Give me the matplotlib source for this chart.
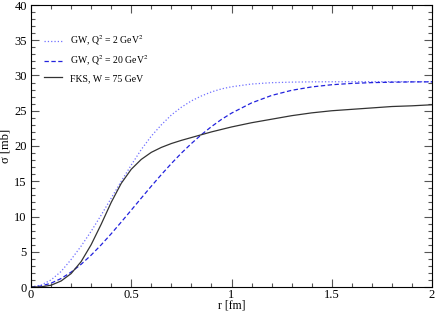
import numpy as np
import matplotlib
matplotlib.use("Agg")
import matplotlib.pyplot as plt
from matplotlib.ticker import MultipleLocator, FixedFormatter, FixedLocator

plt.rcParams['font.family'] = ['Liberation Serif', 'DejaVu Serif']
plt.rcParams['mathtext.fontset'] = 'stix'

# values
r_gw = [0, 0.05, 0.1, 0.15, 0.2, 0.25, 0.3, 0.35, 0.4, 0.45, 0.5, 0.55, 0.6, 0.65,
        0.7, 0.75, 0.8, 0.85, 0.9, 0.95, 1.0, 1.1, 1.2, 1.3, 1.4, 1.5, 1.6, 1.7,
        1.8, 1.9, 2.0]
gw_q2_2 = [0, 0.27, 1.0, 2.2, 3.9, 5.8, 7.9, 10.2, 12.6, 15.0, 17.3, 19.5,
           21.4, 23.0, 24.4, 25.5, 26.4, 27.1, 27.67, 28.10, 28.40, 28.79,
           28.98, 29.06, 29.10, 29.11, 29.12, 29.12, 29.12, 29.12, 29.12]
gw_q2_20 = [0, 0.14, 0.54, 1.20, 2.11, 3.22, 4.52, 5.98, 7.55, 9.21, 10.90, 12.61,
            14.30, 15.94, 17.51, 18.99, 20.35, 21.61, 22.75, 23.77, 24.66, 26.11,
            27.17, 27.90, 28.38, 28.69, 28.88, 28.99, 29.05, 29.09, 29.10]

r_fks = [0, 0.05, 0.1, 0.15, 0.2, 0.25, 0.3, 0.35, 0.4, 0.45, 0.5, 0.55, 0.6, 0.65,
         0.7, 0.75, 0.8, 0.85, 0.9, 1.0, 1.1, 1.2, 1.3, 1.4, 1.5, 1.6, 1.7, 1.8,
         1.9, 2.0]
fks_w75 = [0, 0.02, 0.25, 0.85, 1.9, 3.6, 6.0, 8.9, 12.0, 14.7, 16.7, 18.1, 19.1,
           19.8, 20.35, 20.8, 21.2, 21.6, 22.0, 22.7, 23.3, 23.8, 24.3, 24.7, 25.0,
           25.2, 25.4, 25.6, 25.7, 25.85]

fig = plt.figure(figsize=(4.36, 3.13), dpi=100)
ax = fig.add_axes([31/436, 1-287/313, 401/436, 282/313])

ax.plot(r_gw, gw_q2_2, ':', color='#7070ff', lw=0.9, label='GW, Q$^2$ = 2 GeV$^2$')
ax.plot(r_gw, gw_q2_20, '--', color='#2222dd', lw=0.9, dashes=(3.5, 2),
        label='GW, Q$^2$ = 20 GeV$^2$')
ax.plot(r_fks, fks_w75, '-', color='#333333', lw=0.9, label='FKS, W = 75 GeV')

ax.set_xlim(0, 2)
ax.set_ylim(0, 40)
ax.xaxis.set_major_locator(FixedLocator([0, 0.5, 1, 1.5, 2]))
ax.xaxis.set_major_formatter(FixedFormatter(['0', '0.5', '1', '1.5', '2']))
ax.xaxis.set_minor_locator(MultipleLocator(0.1))
ax.yaxis.set_major_locator(MultipleLocator(5))
ax.yaxis.set_minor_locator(MultipleLocator(1))
ax.tick_params(which='both', direction='in', top=True, right=True, labelsize=9,
               color='#555555', width=0.8)
ax.tick_params(which='major', length=6, pad=3)
ax.tick_params(which='minor', length=3)
ax.tick_params(axis='x', which='major', pad=1.5)
for s in ax.spines.values():
    s.set_linewidth(0.8)

ax.set_xlabel('r [fm]', fontsize=8.5, labelpad=-1)
ax.set_ylabel('σ [mb]', fontsize=9, labelpad=2)

ax.legend(loc='upper left', bbox_to_anchor=(0.01, 0.93), frameon=False, fontsize=7,
          handlelength=1.9, labelspacing=0.6, handletextpad=0.8)

fig.savefig('out.png', dpi=100)
